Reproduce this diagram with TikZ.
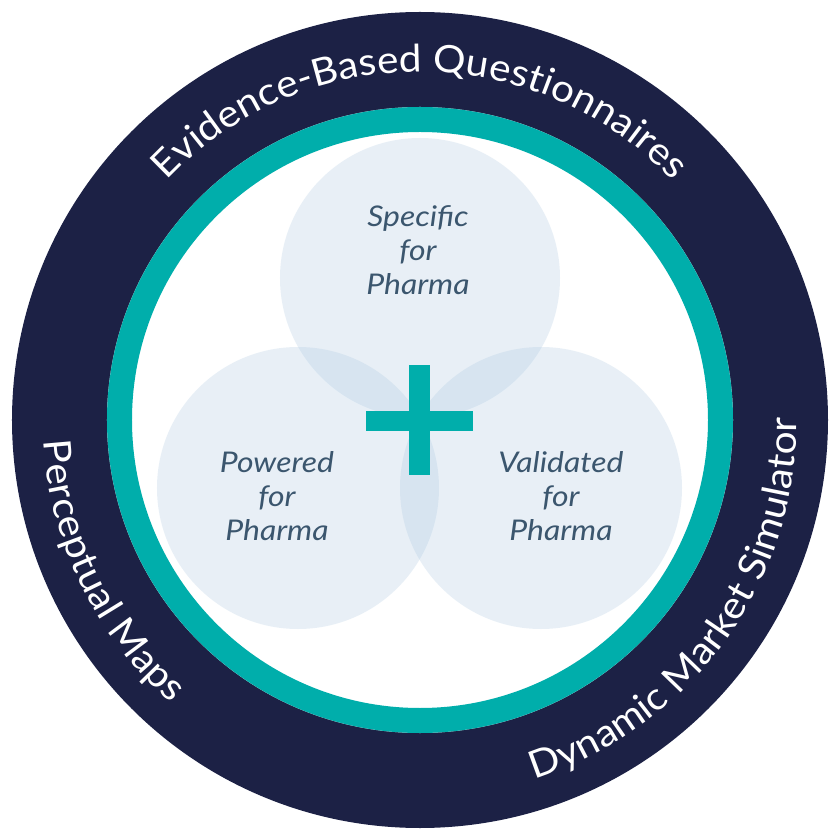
\documentclass[tikz,border=0pt]{standalone}
\usepackage{fontspec}
\setmainfont{Lato}
\usetikzlibrary{decorations.text}
\definecolor{navy}{HTML}{1C2145}
\definecolor{teal1}{HTML}{00AEAB}
\definecolor{bubble}{RGB}{167,197,224}
\definecolor{slate}{HTML}{3B566E}
\newfontfamily\ringfont{Lato}[FakeStretch=1.07]
\newfontfamily\innerfont{Lato}[FakeStretch=1.12]
\tikzset{
  bubblecirc/.style={fill=bubble, fill opacity=0.26, draw=none},
  innertext/.style={align=center, text=slate, font=\innerfont\fontsize{28.5}{34}\selectfont\itshape},
  plusbar/.style={fill=teal1, draw=none},
}
\begin{document}
\begin{tikzpicture}[x=1pt,y=1pt]
\useasboundingbox (-420,-420) rectangle (420,420);
% outer navy disk
\fill[navy] (0,0) circle[radius=408];
% white interior + teal ring
\fill[white] (0,0) circle[radius=313];
\draw[teal1, line width=25] (0,0) circle[radius=300.5];
% three bubbles
\fill[bubblecirc] (0,142) circle[radius=140];
\fill[bubblecirc] (-122,-68) circle[radius=141];
\fill[bubblecirc] (121,-68) circle[radius=141];
% plus sign
\fill[plusbar] (-11,55) rectangle (10,-55);
\fill[plusbar] (-54,9) rectangle (53,-11);
% inner texts
\node[innertext] (spec) at (-2,170) {Specific\\for\\Pharma};
\node[innertext] (pow) at (-143,-76) {Powered\\for\\Pharma};
\node[innertext] (val) at (141,-76) {Validated\\for\\Pharma};
% ring texts
\path[decorate, decoration={text along path, text align=center, text color=white,
  text={|\ringfont\fontsize{38}{40}\selectfont|Evidence-Based Questionnaires}}]
  (180:348) arc[start angle=180, end angle=0, radius=348];
\path[decorate, decoration={text along path, text align=center, text color=white,
  text={|\ringfont\fontsize{38}{40}\selectfont|Perceptual Maps}}]
  (160:377) arc[start angle=160, end angle=252, radius=377];
\path[decorate, decoration={text along path, text align=center, text color=white,
  text={|\ringfont\fontsize{38}{40}\selectfont|Dynamic Market Simulator}}]
  (-102:377) arc[start angle=-102, end angle=30, radius=377];
\end{tikzpicture}
\end{document}
